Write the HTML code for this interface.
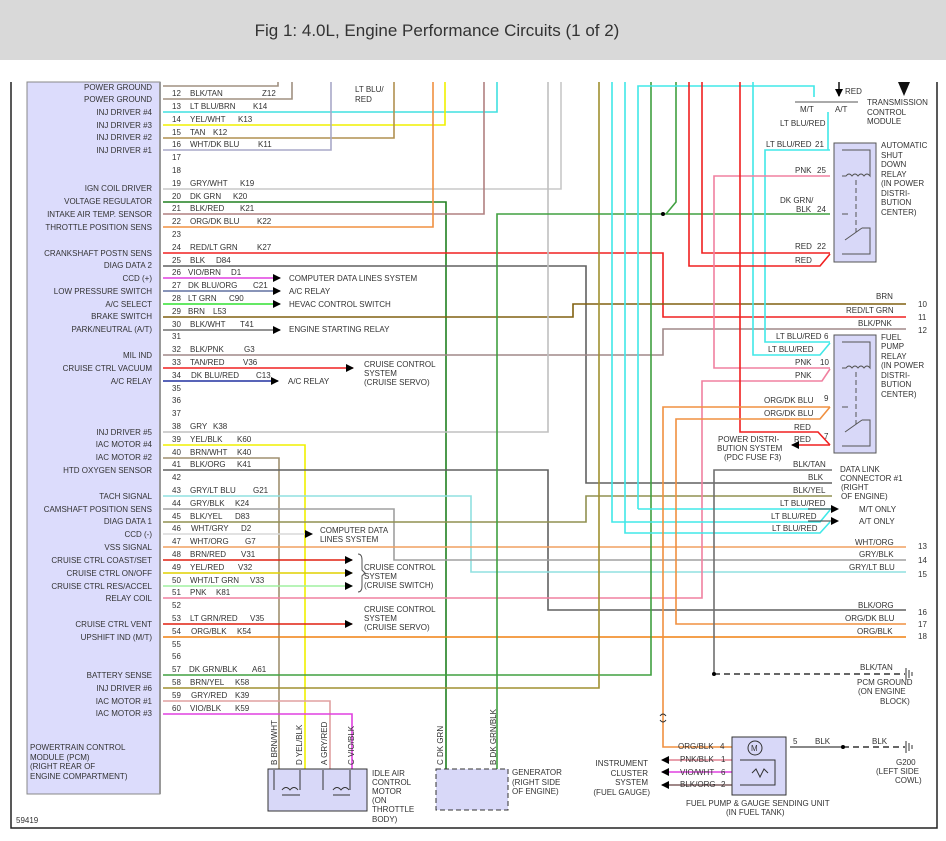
<!DOCTYPE html>
<html><head><meta charset="utf-8"><style>
html,body{margin:0;padding:0;background:#fff}
svg{display:block}
text{font-family:"Liberation Sans",sans-serif;font-size:8px;fill:#333}
.h{font-size:17px;fill:#333}
.r{text-anchor:end}
.w{fill:none;stroke-width:1.6}
</style></head><body>
<svg width="946" height="841" viewBox="0 0 946 841" xmlns="http://www.w3.org/2000/svg">
<defs>
<marker id="a" markerWidth="8" markerHeight="8" refX="7" refY="4" orient="auto" markerUnits="userSpaceOnUse"><path d="M0,0 L8,4 L0,8 z" fill="#000"/></marker>
</defs>
<rect x="0" y="0" width="946" height="60" fill="#d9d9d9"/>
<text class="h" x="437" y="36" text-anchor="middle">Fig 1: 4.0L, Engine Performance Circuits (1 of 2)</text>
<path d="M11,82 V828 H937 V82" fill="none" stroke="#222" stroke-width="1.5"/>
<rect x="27" y="82" width="133" height="712" fill="#dcdcfc" stroke="#888" stroke-width="1"/>
<line x1="160" y1="82" x2="160" y2="794" stroke="#999" stroke-width="2"/>

<g class="w">
<polyline points="163,86 278,86 278,82" stroke="#a09080"/>
<polyline points="163,99 292,99 292,82" stroke="#a09080"/>
<polyline points="163,112 497,112 497,82" stroke="#40e0e0"/>
<polyline points="163,125 445,125 445,82" stroke="#f0f000"/>
<polyline points="163,138 394,138 394,82" stroke="#b09050"/>
<polyline points="163,150 331,150 331,82" stroke="#a8a8c8"/>
<polyline points="163,189 561,189 561,82" stroke="#c8c8c8"/>
<polyline points="163,202 446,202 446,770" stroke="#208020"/>
<polyline points="163,214 484,214 484,82" stroke="#b08080"/>
<polyline points="163,227 433,227 433,82" stroke="#f09040"/>
<polyline points="163,253 663,253 663,317 906,317" stroke="#f02020"/>
<polyline points="163,266 586,266 586,483 832,483" stroke="#606060"/>
<polyline points="163,278 280,278" stroke="#e040e0" marker-end="url(#a)"/>
<polyline points="163,291 280,291" stroke="#6070a0" marker-end="url(#a)"/>
<polyline points="163,304 280,304" stroke="#30e030" marker-end="url(#a)"/>
<polyline points="163,317 573,317 573,304 906,304" stroke="#806010"/>
<polyline points="163,330 280,330" stroke="#707070" marker-end="url(#a)"/>
<polyline points="163,355 663,355 663,329 906,329" stroke="#a08888"/>
<polyline points="163,368 353,368" stroke="#f02020" marker-end="url(#a)"/>
<polyline points="163,381 278,381" stroke="#2030a0" marker-end="url(#a)"/>
<polyline points="163,432 548,432 548,82" stroke="#c0c0c0"/>
<polyline points="163,445 305,445 305,770" stroke="#f0f000"/>
<polyline points="163,458 279,458 279,770" stroke="#a09070"/>
<polyline points="163,470 548,470 548,610 906,610" stroke="#606060"/>
<polyline points="163,496 471,496 471,572 906,572" stroke="#90e0e0"/>
<polyline points="163,509 394,509 394,560 906,560" stroke="#a0a0a0"/>
<polyline points="163,522 586,522 586,496 832,496" stroke="#909050"/>
<polyline points="163,534 312,534" stroke="#d8d8d8" marker-end="url(#a)"/>
<polyline points="163,547 906,547" stroke="#f0a060"/>
<polyline points="163,560 352,560" stroke="#e02010" marker-end="url(#a)"/>
<polyline points="163,573 352,573" stroke="#e0d000" marker-end="url(#a)"/>
<polyline points="163,586 352,586" stroke="#a0f0a0" marker-end="url(#a)"/>
<polyline points="163,598 702,598 702,381 822,381 830,369" stroke="#f080a0"/>
<polyline points="163,624 352,624" stroke="#e02010" marker-end="url(#a)"/>
<polyline points="163,637 906,637" stroke="#f08010"/>
<polyline points="163,675 651,675 651,82" stroke="#40a040"/>
<polyline points="163,688 599,688 599,82" stroke="#a09030"/>
<polyline points="163,701 330,701 330,770" stroke="#e0a0a0"/>
<polyline points="163,714 352,714 352,770" stroke="#e040e0"/>
<polyline points="497,770 497,214 830,214" stroke="#40a040"/>
<polyline points="676,82 676,202 666,214" stroke="#40a040"/>
<polyline points="612,82 612,522 820,522 830,510" stroke="#40e8e8"/>
<polyline points="625,82 625,533 820,533 830,522" stroke="#40e8e8"/>
<polyline points="638,509 638,86 814,86 814,97" stroke="#40e8e8"/>
<polyline points="638,509 832,509" stroke="#40e8e8"/>
<polyline points="753,82 753,355 820,355 830,343" stroke="#40e8e8"/>
<polyline points="830,150 765,150 765,342 830,342" stroke="#40e8e8"/>
<polyline points="828,112 828,150" stroke="#40e8e8"/>
<polyline points="689,82 689,266 820,266 830,254" stroke="#f02020"/>
<polyline points="702,82 702,253 830,253" stroke="#f02020"/>
<polyline points="830,176 714,176 714,368 830,368" stroke="#f080a0"/>
<polyline points="740,82 740,432 818,432 830,445" stroke="#f02020"/>
<polyline points="830,445 792,445" stroke="#f02020" marker-end="url(#a)"/>
<polyline points="830,407 663,407 663,747 732,747" stroke="#f09040"/>
<polyline points="906,624 676,624 676,419 820,419 830,407" stroke="#f09040"/>
<polyline points="832,470 714,470 714,674" stroke="#707070"/>
<polyline points="732,760 662,760" stroke="#e08090" marker-end="url(#a)"/>
<polyline points="732,772 662,772" stroke="#e040e0" marker-end="url(#a)"/>
<polyline points="732,785 662,785" stroke="#806060" marker-end="url(#a)"/>
<polyline points="790,747 843,747" stroke="#606060"/>
<polyline points="839,82 839,96" stroke="#222" marker-end="url(#a)"/>
<polyline points="808,509 838,509" stroke="#333" stroke-width="1" marker-end="url(#a)"/>
<polyline points="808,521 838,521" stroke="#333" stroke-width="1" marker-end="url(#a)"/>
</g>
<path d="M795,102 H858" stroke="#555" fill="none"/>
<path d="M898,82 L904,96 L910,82 z" fill="#111"/>
<path d="M714,674 H905 M843,747 H905" stroke="#333" stroke-width="1.5" stroke-dasharray="6,4" fill="none"/>
<circle cx="714" cy="674" r="2" fill="#000"/><circle cx="843" cy="747" r="2" fill="#000"/><circle cx="663" cy="214" r="2" fill="#000"/>
<path d="M906,668 V680 M909,670 V678 M912,672 V676 M906,741 V753 M909,743 V751 M912,745 V749" stroke="#333"/>
<path d="M660,716 q3,-4 6,0 M660,720 q3,4 6,0" stroke="#333" fill="none"/>

<rect x="834" y="143" width="42" height="119" fill="#d8d8f8" stroke="#555"/>
<path d="M842,150 H870 V172 M842,176 H846 q3,-4 6,0 q3,-4 6,0 q3,-4 6,0 q3,-4 6,0 H870 V150 M845,240 L862,228 M862,228 L870,228 V254 H842 M842,214 H848" stroke="#555" fill="none"/>
<path d="M856,180 V232" stroke="#555" stroke-dasharray="5,3"/>
<rect x="834" y="335" width="42" height="118" fill="#d8d8f8" stroke="#555"/>
<path d="M842,342 H870 V364 M842,368 H846 q3,-4 6,0 q3,-4 6,0 q3,-4 6,0 q3,-4 6,0 H870 V342 M845,432 L862,420 M862,420 L870,420 V446 H842 M842,407 H848" stroke="#555" fill="none"/>
<path d="M856,372 V424" stroke="#555" stroke-dasharray="5,3"/>
<rect x="268" y="769" width="99" height="42" fill="#d8d8f8" stroke="#333"/>
<path d="M274,770 V790 M300,770 V790 M323,770 V790 M350,770 V790 M282,790 q4,-5 8,0 q4,-5 8,0 M333,790 q4,-5 8,0 q4,-5 8,0 M282,795 H300 M333,795 H350" stroke="#333" fill="none"/>
<rect x="436" y="769" width="72" height="41" fill="#d8d8f8" stroke="#333" stroke-dasharray="5,3"/>
<rect x="732" y="737" width="54" height="58" fill="#d8d8f8" stroke="#333"/>
<circle cx="755" cy="748" r="7" fill="none" stroke="#333"/><text x="751" y="751">M</text>
<path d="M740,760 H775 V785 H740 M752,773 l4,-4 l4,8 l4,-8 l4,4" stroke="#333" fill="none"/>

<g>
<text class="r" x="152" y="90">POWER GROUND</text>
<text class="r" x="152" y="102">POWER GROUND</text>
<text class="r" x="152" y="115">INJ DRIVER #4</text>
<text class="r" x="152" y="128">INJ DRIVER #3</text>
<text class="r" x="152" y="140">INJ DRIVER #2</text>
<text class="r" x="152" y="153">INJ DRIVER #1</text>
<text class="r" x="152" y="191">IGN COIL DRIVER</text>
<text class="r" x="152" y="204">VOLTAGE REGULATOR</text>
<text class="r" x="152" y="217">INTAKE AIR TEMP. SENSOR</text>
<text class="r" x="152" y="230">THROTTLE POSITION SENS</text>
<text class="r" x="152" y="256">CRANKSHAFT POSTN SENS</text>
<text class="r" x="152" y="268">DIAG DATA 2</text>
<text class="r" x="152" y="281">CCD (+)</text>
<text class="r" x="152" y="294">LOW PRESSURE SWITCH</text>
<text class="r" x="152" y="307">A/C SELECT</text>
<text class="r" x="152" y="319">BRAKE SWITCH</text>
<text class="r" x="152" y="332">PARK/NEUTRAL (A/T)</text>
<text class="r" x="152" y="358">MIL IND</text>
<text class="r" x="152" y="371">CRUISE CTRL VACUUM</text>
<text class="r" x="152" y="384">A/C RELAY</text>
<text class="r" x="152" y="435">INJ DRIVER #5</text>
<text class="r" x="152" y="447">IAC MOTOR #4</text>
<text class="r" x="152" y="460">IAC MOTOR #2</text>
<text class="r" x="152" y="473">HTD OXYGEN SENSOR</text>
<text class="r" x="152" y="499">TACH SIGNAL</text>
<text class="r" x="152" y="512">CAMSHAFT POSITION SENS</text>
<text class="r" x="152" y="524">DIAG DATA 1</text>
<text class="r" x="152" y="537">CCD (-)</text>
<text class="r" x="152" y="550">VSS SIGNAL</text>
<text class="r" x="152" y="563">CRUISE CTRL COAST/SET</text>
<text class="r" x="152" y="576">CRUISE CTRL ON/OFF</text>
<text class="r" x="152" y="589">CRUISE CTRL RES/ACCEL</text>
<text class="r" x="152" y="601">RELAY COIL</text>
<text class="r" x="152" y="627">CRUISE CTRL VENT</text>
<text class="r" x="152" y="640">UPSHIFT IND (M/T)</text>
<text class="r" x="152" y="678">BATTERY SENSE</text>
<text class="r" x="152" y="691">INJ DRIVER #6</text>
<text class="r" x="152" y="704">IAC MOTOR #1</text>
<text class="r" x="152" y="716">IAC MOTOR #3</text>
</g>
<text x="30" y="750">POWERTRAIN CONTROL</text>
<text x="30" y="760">MODULE (PCM)</text>
<text x="30" y="769">(RIGHT REAR OF</text>
<text x="30" y="779">ENGINE COMPARTMENT)</text>
<text x="16" y="823">59419</text>

<g>
<text x="172" y="96">12</text><text x="190" y="96">BLK/TAN</text><text x="262" y="96">Z12</text>
<text x="172" y="109">13</text><text x="190" y="109">LT BLU/BRN</text><text x="253" y="109">K14</text>
<text x="172" y="122">14</text><text x="190" y="122">YEL/WHT</text><text x="238" y="122">K13</text>
<text x="172" y="135">15</text><text x="190" y="135">TAN</text><text x="213" y="135">K12</text>
<text x="172" y="147">16</text><text x="190" y="147">WHT/DK BLU</text><text x="258" y="147">K11</text>
<text x="172" y="160">17</text>
<text x="172" y="173">18</text>
<text x="172" y="186">19</text><text x="190" y="186">GRY/WHT</text><text x="240" y="186">K19</text>
<text x="172" y="199">20</text><text x="190" y="199">DK GRN</text><text x="233" y="199">K20</text>
<text x="172" y="211">21</text><text x="190" y="211">BLK/RED</text><text x="240" y="211">K21</text>
<text x="172" y="224">22</text><text x="190" y="224">ORG/DK BLU</text><text x="257" y="224">K22</text>
<text x="172" y="237">23</text>
<text x="172" y="250">24</text><text x="190" y="250">RED/LT GRN</text><text x="257" y="250">K27</text>
<text x="172" y="263">25</text><text x="190" y="263">BLK</text><text x="216" y="263">D84</text>
<text x="172" y="275">26</text><text x="188" y="275">VIO/BRN</text><text x="231" y="275">D1</text>
<text x="172" y="288">27</text><text x="188" y="288">DK BLU/ORG</text><text x="253" y="288">C21</text>
<text x="172" y="301">28</text><text x="188" y="301">LT GRN</text><text x="229" y="301">C90</text>
<text x="172" y="314">29</text><text x="188" y="314">BRN</text><text x="213" y="314">L53</text>
<text x="172" y="327">30</text><text x="190" y="327">BLK/WHT</text><text x="240" y="327">T41</text>
<text x="172" y="339">31</text>
<text x="172" y="352">32</text><text x="190" y="352">BLK/PNK</text><text x="244" y="352">G3</text>
<text x="172" y="365">33</text><text x="190" y="365">TAN/RED</text><text x="243" y="365">V36</text>
<text x="172" y="378">34</text><text x="191" y="378">DK BLU/RED</text><text x="256" y="378">C13</text>
<text x="172" y="391">35</text>
<text x="172" y="403">36</text>
<text x="172" y="416">37</text>
<text x="172" y="429">38</text><text x="190" y="429">GRY</text><text x="213" y="429">K38</text>
<text x="172" y="442">39</text><text x="190" y="442">YEL/BLK</text><text x="237" y="442">K60</text>
<text x="172" y="455">40</text><text x="190" y="455">BRN/WHT</text><text x="237" y="455">K40</text>
<text x="172" y="467">41</text><text x="190" y="467">BLK/ORG</text><text x="237" y="467">K41</text>
<text x="172" y="480">42</text>
<text x="172" y="493">43</text><text x="190" y="493">GRY/LT BLU</text><text x="253" y="493">G21</text>
<text x="172" y="506">44</text><text x="190" y="506">GRY/BLK</text><text x="235" y="506">K24</text>
<text x="172" y="519">45</text><text x="190" y="519">BLK/YEL</text><text x="235" y="519">D83</text>
<text x="172" y="531">46</text><text x="191" y="531">WHT/GRY</text><text x="241" y="531">D2</text>
<text x="172" y="544">47</text><text x="190" y="544">WHT/ORG</text><text x="245" y="544">G7</text>
<text x="172" y="557">48</text><text x="190" y="557">BRN/RED</text><text x="241" y="557">V31</text>
<text x="172" y="570">49</text><text x="190" y="570">YEL/RED</text><text x="238" y="570">V32</text>
<text x="172" y="583">50</text><text x="190" y="583">WHT/LT GRN</text><text x="250" y="583">V33</text>
<text x="172" y="595">51</text><text x="190" y="595">PNK</text><text x="216" y="595">K81</text>
<text x="172" y="608">52</text>
<text x="172" y="621">53</text><text x="190" y="621">LT GRN/RED</text><text x="250" y="621">V35</text>
<text x="172" y="634">54</text><text x="191" y="634">ORG/BLK</text><text x="237" y="634">K54</text>
<text x="172" y="647">55</text>
<text x="172" y="659">56</text>
<text x="172" y="672">57</text><text x="189" y="672">DK GRN/BLK</text><text x="252" y="672">A61</text>
<text x="172" y="685">58</text><text x="190" y="685">BRN/YEL</text><text x="235" y="685">K58</text>
<text x="172" y="698">59</text><text x="191" y="698">GRY/RED</text><text x="235" y="698">K39</text>
<text x="172" y="711">60</text><text x="190" y="711">VIO/BLK</text><text x="235" y="711">K59</text>
</g>

<text x="289" y="281">COMPUTER DATA LINES SYSTEM</text>
<text x="289" y="294">A/C RELAY</text>
<text x="289" y="307">HEVAC CONTROL SWITCH</text>
<text x="289" y="332">ENGINE STARTING RELAY</text>
<text x="364" y="367">CRUISE CONTROL</text><text x="364" y="376">SYSTEM</text><text x="364" y="385">(CRUISE SERVO)</text>
<text x="288" y="384">A/C RELAY</text>
<text x="320" y="533">COMPUTER DATA</text><text x="320" y="542">LINES SYSTEM</text>
<path d="M358,554 q4,0 4,6 v10 l3,3 l-3,3 v10 q0,6 -4,6" stroke="#555" fill="none"/>
<text x="364" y="570">CRUISE CONTROL</text><text x="364" y="579">SYSTEM</text><text x="364" y="588">(CRUISE SWITCH)</text>
<text x="364" y="612">CRUISE CONTROL</text><text x="364" y="621">SYSTEM</text><text x="364" y="630">(CRUISE SERVO)</text>
<text x="355" y="92">LT BLU/</text><text x="355" y="102">RED</text>

<text x="845" y="94">RED</text>
<text x="800" y="112">M/T</text><text x="835" y="112">A/T</text>
<text x="780" y="126">LT BLU/RED</text>
<text x="867" y="105">TRANSMISSION</text><text x="867" y="115">CONTROL</text><text x="867" y="124">MODULE</text>

<text x="766" y="147">LT BLU/RED</text><text x="815" y="147">21</text>
<text x="795" y="173">PNK</text><text x="817" y="173">25</text>
<text x="780" y="203">DK GRN/</text><text x="796" y="212">BLK</text><text x="817" y="212">24</text>
<text x="795" y="249">RED</text><text x="817" y="249">22</text>
<text x="795" y="263">RED</text>
<text x="881" y="148">AUTOMATIC</text><text x="881" y="158">SHUT</text><text x="881" y="167">DOWN</text><text x="881" y="177">RELAY</text><text x="881" y="186">(IN POWER</text><text x="881" y="196">DISTRI-</text><text x="881" y="205">BUTION</text><text x="881" y="215">CENTER)</text>
<text x="876" y="299">BRN</text><text x="846" y="313">RED/LT GRN</text><text x="858" y="326">BLK/PNK</text>
<text x="918" y="307">10</text><text x="918" y="320">11</text><text x="918" y="333">12</text>
<text x="776" y="339">LT BLU/RED</text><text x="824" y="339">6</text>
<text x="768" y="352">LT BLU/RED</text>
<text x="795" y="365">PNK</text><text x="820" y="365">10</text>
<text x="795" y="378">PNK</text>
<text x="764" y="403">ORG/DK BLU</text><text x="824" y="401">9</text>
<text x="764" y="416">ORG/DK BLU</text>
<text x="794" y="430">RED</text><text x="824" y="439">7</text>
<text x="794" y="442">RED</text>
<text x="718" y="442">POWER DISTRI-</text><text x="717" y="451">BUTION SYSTEM</text><text x="724" y="460">(PDC FUSE F3)</text>
<text x="881" y="340">FUEL</text><text x="881" y="349">PUMP</text><text x="881" y="359">RELAY</text><text x="881" y="368">(IN POWER</text><text x="881" y="378">DISTRI-</text><text x="881" y="387">BUTION</text><text x="881" y="397">CENTER)</text>
<text x="793" y="467">BLK/TAN</text><text x="808" y="480">BLK</text><text x="793" y="493">BLK/YEL</text>
<text x="780" y="506">LT BLU/RED</text><text x="771" y="519">LT BLU/RED</text><text x="772" y="531">LT BLU/RED</text>
<text x="840" y="472">DATA LINK</text><text x="840" y="481">CONNECTOR #1</text><text x="841" y="490">(RIGHT</text><text x="841" y="499">OF ENGINE)</text>
<text x="859" y="512">M/T ONLY</text><text x="859" y="524">A/T ONLY</text>
<text x="855" y="545">WHT/ORG</text><text x="859" y="557">GRY/BLK</text><text x="849" y="570">GRY/LT BLU</text>
<text x="918" y="549">13</text><text x="918" y="563">14</text><text x="918" y="577">15</text>
<text x="858" y="608">BLK/ORG</text><text x="845" y="621">ORG/DK BLU</text><text x="857" y="634">ORG/BLK</text>
<text x="918" y="615">16</text><text x="918" y="627">17</text><text x="918" y="639">18</text>
<text x="860" y="670">BLK/TAN</text>
<text x="857" y="685">PCM GROUND</text><text x="858" y="694">(ON ENGINE</text><text x="880" y="704">BLOCK)</text>
<g transform="translate(277,765) rotate(-90)"><text>B BRN/WHT</text></g>
<g transform="translate(302,765) rotate(-90)"><text>D YEL/BLK</text></g>
<g transform="translate(327,765) rotate(-90)"><text>A GRY/RED</text></g>
<g transform="translate(354,765) rotate(-90)"><text>C VIO/BLK</text></g>
<g transform="translate(443,765) rotate(-90)"><text>C DK GRN</text></g>
<g transform="translate(496,765) rotate(-90)"><text>B DK GRN/BLK</text></g>
<text x="372" y="776">IDLE AIR</text><text x="372" y="785">CONTROL</text><text x="372" y="794">MOTOR</text><text x="372" y="803">(ON</text><text x="372" y="812">THROTTLE</text><text x="372" y="822">BODY)</text>
<text x="512" y="775">GENERATOR</text><text x="512" y="785">(RIGHT SIDE</text><text x="512" y="794">OF ENGINE)</text>
<text x="678" y="749">ORG/BLK</text><text x="720" y="749">4</text>
<text x="680" y="762">PNK/BLK</text><text x="721" y="762">1</text>
<text x="680" y="775">VIO/WHT</text><text x="721" y="775">6</text>
<text x="680" y="787">BLK/ORG</text><text x="721" y="787">2</text>
<text class="r" x="648" y="766">INSTRUMENT</text><text class="r" x="648" y="776">CLUSTER</text><text class="r" x="648" y="785">SYSTEM</text><text class="r" x="650" y="795">(FUEL GAUGE)</text>
<text x="793" y="744">5</text><text x="815" y="744">BLK</text><text x="872" y="744">BLK</text>
<text x="896" y="765">G200</text><text x="876" y="774">(LEFT SIDE</text><text x="895" y="783">COWL)</text>
<text x="686" y="806">FUEL PUMP &amp; GAUGE SENDING UNIT</text><text x="726" y="815">(IN FUEL TANK)</text>
</svg>
</body></html>
